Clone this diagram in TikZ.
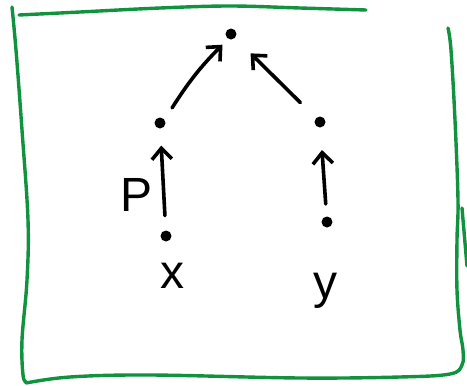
\documentclass[tikz,border=0pt]{standalone}
\usepackage{fontspec}
\setmainfont{Liberation Sans}
\usetikzlibrary{arrows.meta,calc}
\definecolor{boxgreen}{RGB}{16,146,62}
\tikzset{
  frame/.style={draw=boxgreen, line width=3.4pt, line cap=round, line join=round},
  dot/.style={circle, fill=black, inner sep=0pt, minimum size=11pt},
  arr/.style={line width=3.6pt, line cap=round, -{Straight Barb[length=11pt,width=20pt,line width=3.6pt]}},
  lbl/.style={inner sep=0pt, font=\fontsize{48}{48}\selectfont}
}
\begin{document}
\begin{tikzpicture}[x=1pt,y=-1pt]
\useasboundingbox (0,0) rectangle (467,386);
% hand-drawn frame
\draw[frame] plot[smooth, tension=0.6] coordinates {(19,15) (80,12) (160,8) (230,6) (300,8) (366,10)};
\draw[frame] plot[smooth, tension=0.6] coordinates {(12,7) (16,50) (22,130) (28,220) (27,280) (22,340) (23,375) (26,382)};
\draw[frame] plot[smooth, tension=0.6] coordinates {(26,383) (70,377) (150,375) (300,378) (400,377) (450,374) (462,365) (463,350) (460,330) (457,290) (457,240) (458,200) (455,120) (451,50) (448,28)};
\draw[frame] (462,208) -- (467,266);
% nodes
\node[dot] (top) at (231,34) {};
\node[dot] (lm) at (160,123) {};
\node[dot] (rm) at (320,122) {};
\node[dot] (lb) at (166,236) {};
\node[dot] (rb) at (327,222) {};
% arrows
\draw[arr] ($(lm)!0.17!(top)$) to[bend left=6] ($(lm)!0.88!(top)$);
\draw[arr] ($(rm)!0.22!(top)$) -- ($(rm)!0.78!(top)$);
\draw[arr] ($(lb)!0.18!(lm)$) -- ($(lb)!0.8!(lm)$);
\draw[arr] ($(rb)!0.18!(rm)$) -- ($(rb)!0.72!(rm)$);
% labels
\node[lbl] (p) at (137,195) {P};
\node[lbl] (x) at (172,276) {x};
\node[lbl] (y) at (325,291) {y};
\end{tikzpicture}
\end{document}
